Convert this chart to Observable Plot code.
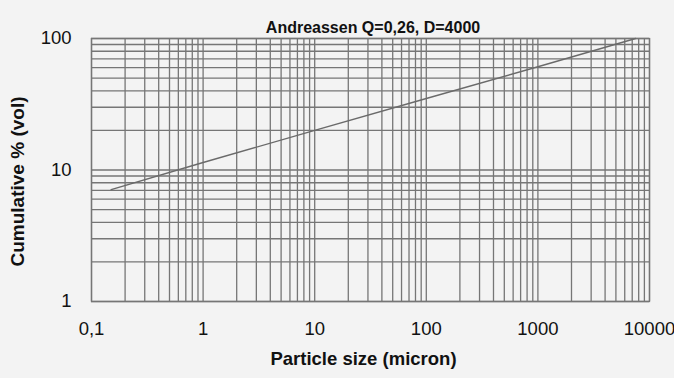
<!DOCTYPE html>
<html><head><meta charset="utf-8">
<script src="https://cdn.jsdelivr.net/npm/d3@7"></script>
<script src="https://cdn.jsdelivr.net/npm/@observablehq/plot@0.6"></script>
<style>
  html, body { margin: 0; padding: 0; background: #f3f3f3; }
  svg { display: block; }
</style>
</head><body><div id="chart"></div>
<script>
const title = "Andreassen Q=0,26, D=4000";
const xLabel = "Particle size (micron)";
const yLabel = "Cumulative % (vol)";
const particleSize = [0.15, 1, 10, 100, 1000, 7500];
const cumulative = [7.1, 11.4, 20, 35, 61, 100];
const xTicks = [0.1, 1, 10, 100, 1000, 10000];
const yTicks = [1, 10, 100];
const mantissas = [1, 2, 3, 4, 5, 6, 7, 8, 9];
const xDecades = [0.1, 1, 10, 100, 1000];
const yDecades = [1, 10];

const xGrid = xDecades.flatMap(d => mantissas.map(m => m * d)).concat([10000]);
const yGrid = yDecades.flatMap(d => mantissas.map(m => m * d)).concat([100]);
const data = particleSize.map((x, i) => ({x, y: cumulative[i]}));

const gridColor = "#767676";
const chart = Plot.plot({
  width: 674,
  height: 378,
  marginLeft: 91,
  marginRight: 25,
  marginTop: 38,
  marginBottom: 77,
  style: {background: "#f3f3f3", fontFamily: "'Liberation Sans', Arial, sans-serif", color: "#111"},
  x: {type: "log", domain: [0.1, 10000]},
  y: {type: "log", domain: [1, 100]},
  marks: [
    Plot.gridX(xGrid, {stroke: gridColor, strokeOpacity: 1, strokeWidth: 1.3}),
    Plot.gridY(yGrid, {stroke: gridColor, strokeOpacity: 1, strokeWidth: 1.3}),
    Plot.frame({stroke: gridColor, strokeWidth: 1.3}),
    Plot.line(data, {x: "x", y: "y", stroke: "#6a6a6a", strokeWidth: 1.4}),
    Plot.axisX(xTicks, {tickSize: 0, tickPadding: 20, fontSize: 18.5, label: null,
      tickFormat: d => String(d).replace(".", ","), fill: "#111"}),
    Plot.axisY(yTicks, {tickSize: 0, tickPadding: 20, fontSize: 18.5, label: null,
      tickFormat: d => String(d), fill: "#111"}),
    Plot.text([title], {frameAnchor: "top", dy: -17, dx: 2.5, fontWeight: "bold", fontSize: 16, fill: "#111"}),
    Plot.text([xLabel], {frameAnchor: "bottom", dy: 63, dx: -7, fontWeight: "bold", fontSize: 18.5, fill: "#111"}),
    Plot.text([yLabel], {frameAnchor: "left", textAnchor: "middle", dx: -74, dy: 11.5, rotate: -90, fontWeight: "bold", fontSize: 19, fill: "#111"})
  ]
});
document.getElementById("chart").append(chart);
</script>
</body></html>
